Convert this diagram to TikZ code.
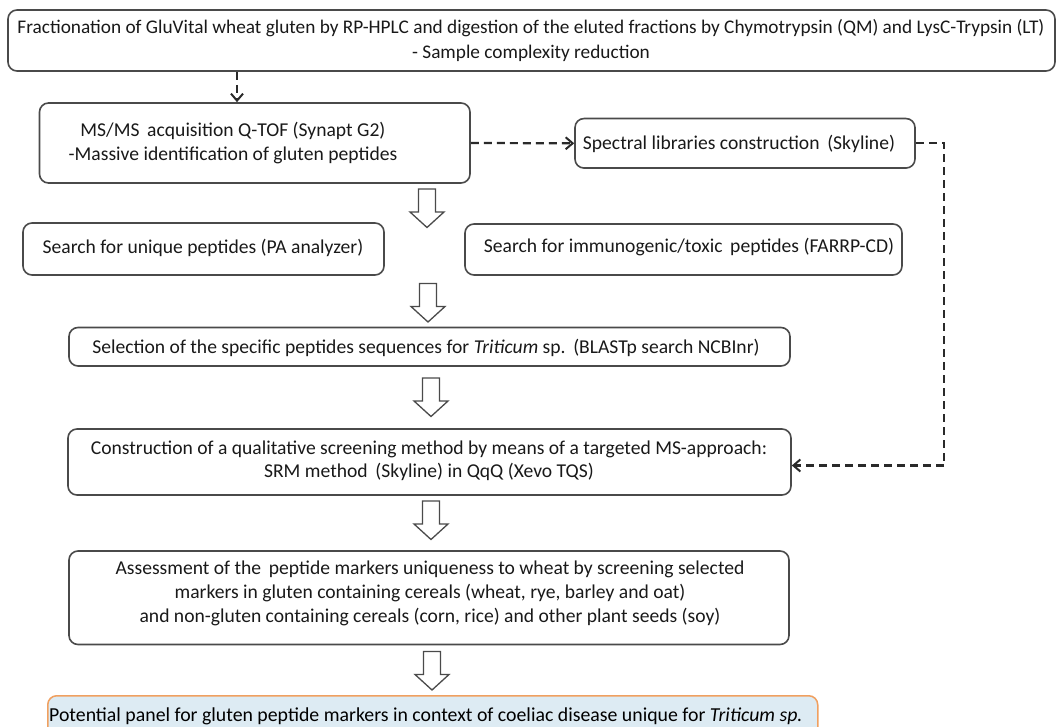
\documentclass[tikz,border=0pt]{standalone}
\usepackage{fontspec}
\setmainfont{Carlito}
\usetikzlibrary{arrows.meta}
\definecolor{boxline}{HTML}{4A4A4A}
\definecolor{dashline}{HTML}{2A2A2A}
\definecolor{finalfill}{HTML}{DDEBF3}
\definecolor{finalline}{HTML}{F0A060}
\tikzset{
  box/.style={draw=boxline, line width=1.6pt, rounded corners=9pt, inner sep=0pt},
  txt/.style={align=center, inner sep=0pt, font=\fontsize{19.6}{23.7}\selectfont, text=black!90},
  dashconn/.style={draw=dashline, line width=2.2pt, dash pattern=on 8pt off 5pt},
  dashtip/.style={-{Straight Barb[length=7pt,width=12pt,line width=2pt]}},
  fatarrow/.pic={\draw[boxline, line width=1.3pt, fill=white, line join=miter]
     (-8.5,0) -- (-8.5,23) -- (-17,23) -- (0,38.5) -- (17,23) -- (8.5,23) -- (8.5,0) -- cycle;}
}
\begin{document}
\begin{tikzpicture}[x=1pt,y=-1pt]
\useasboundingbox (0,0) rectangle (1057,727);
% boxes
\node[box, minimum width=1047, minimum height=61] (b1) at (531.5,40.5) {};
\node[txt, font=\fontsize{19.3}{24.4}\selectfont] (t1) at (531,40.6) {Fractionation of GluVital wheat gluten by RP-HPLC and digestion of the eluted fractions by Chymotrypsin (QM) and LysC-Trypsin (LT)\\- Sample complexity reduction};
\node[box, minimum width=430.5, minimum height=80] (b2) at (254.75,143) {};
\node[txt] (t2) at (233,143) {MS/MS\,\ acquisition Q-TOF (Synapt G2)\\-Massive identification of gluten peptides};
\node[box, minimum width=340, minimum height=49.5] (b3) at (745,143.3) {};
\node[txt] (t3) at (739,143.8) {Spectral libraries construction\ \,(Skyline)};
\node[box, minimum width=361, minimum height=52] (b4) at (203.5,249) {};
\node[txt] (t4) at (203,247.5) {Search for unique peptides (PA analyzer)};
\node[box, minimum width=437, minimum height=51] (b5) at (683.5,249.5) {};
\node[txt] (t5) at (689,247.5) {Search for immunogenic/toxic\ \,peptides (FARRP-CD)};
\node[box, minimum width=721, minimum height=38.5] (b6) at (429.5,346.75) {};
\node[txt] (t6) at (426,347.7) {Selection of the specific peptides sequences for \textit{Triticum} sp.\ \,(BLASTp search NCBInr)};
\node[box, minimum width=723, minimum height=66] (b7) at (429.5,462) {};
\node[txt] (t7) at (429,460.7) {Construction of a qualitative screening method by means of a targeted MS-approach:\\SRM method\ \,(Skyline) in QqQ (Xevo TQS)};
\node[box, minimum width=720, minimum height=93.5] (b8) at (429,597.75) {};
\node[txt, font=\fontsize{19.6}{23.9}\selectfont] (t8) at (430,593.3) {Assessment of the\ \,peptide markers uniqueness to wheat by screening selected\\markers in gluten containing cereals (wheat, rye, barley and oat)\\and non-gluten containing cereals (corn, rice) and other plant seeds (soy)};
\node[draw=finalline, fill=finalfill, line width=1.5pt, rounded corners=9pt, inner sep=0pt,
      minimum width=770, minimum height=50, anchor=north west] (b9) at (47,695) {};
\node[txt, anchor=west, font=\fontsize{19.8}{24}\selectfont, text=black] (t9) at (49,716.5) {Potential panel for gluten peptide markers in context of coeliac disease unique for \textit{Triticum sp.}};
% dashed connectors
\coordinate (c1) at (b1.south -| 237,0);
\coordinate (c2) at (b2.north -| 237,0);
\draw[dashconn, dashtip] (c1) -- (c2);
\draw[dashconn, dashtip] (b2.east) -- (b3.west);
\coordinate (k1) at (944,143.3);
\coordinate (k2) at (944,465.5);
\draw[dashconn] (b3.east) -- (k1) -- (k2);
\draw[dashconn, dashtip] (k2) -- (b7.east |- k2);
% hollow block arrows
\pic at (427,189) {fatarrow};
\pic at (428,283.5) {fatarrow};
\pic at (431,378) {fatarrow};
\pic at (431,501) {fatarrow};
\pic at (432,651.5) {fatarrow};
\end{tikzpicture}
\end{document}
